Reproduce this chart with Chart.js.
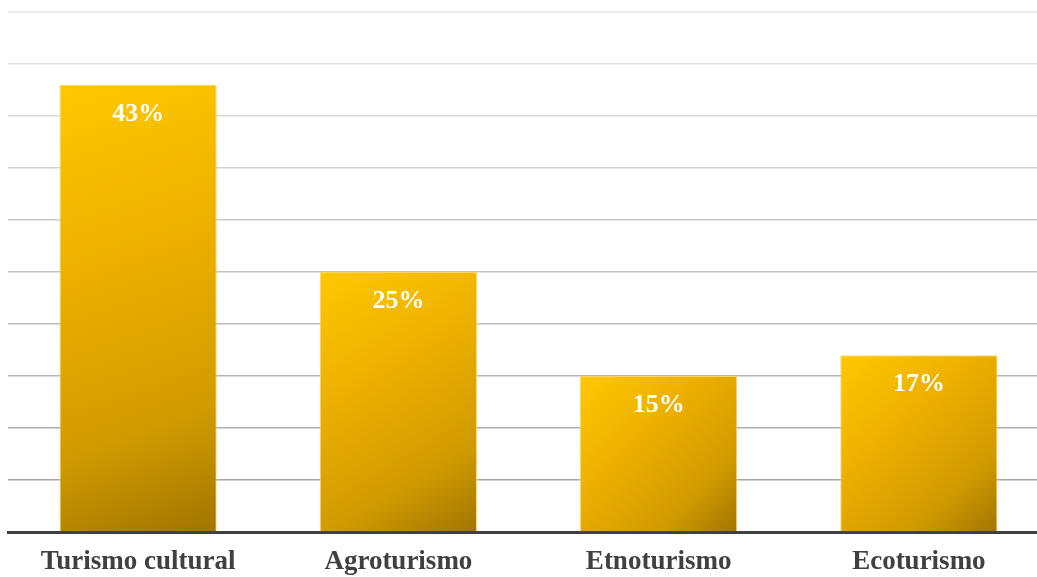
<!DOCTYPE html>
<html>
<head>
<meta charset="utf-8">
<script src="https://cdn.jsdelivr.net/npm/chart.js@4.4.1/dist/chart.umd.min.js"></script>
<style>
  html, body { margin: 0; padding: 0; background: #ffffff; overflow: hidden; }
  #wrap { position: absolute; left: 0; top: 0; width: 1049px; height: 577px; }
</style>
</head>
<body>
<div id="wrap"><canvas id="c"></canvas></div>
<script>
const categories = ["Turismo cultural", "Agroturismo", "Etnoturismo", "Ecoturismo"];
const values = [43, 25, 15, 17];
const valueLabels = ["43%", "25%", "15%", "17%"];
const yTicks = [0, 5, 10, 15, 20, 25, 30, 35, 40, 45, 50];

const FONT = "'Liberation Serif', 'Times New Roman', serif";

function barGradient(ctx) {
  const chart = ctx.chart;
  const xs = chart.scales && chart.scales.x, ys = chart.scales && chart.scales.y;
  if (!xs || !ys || ctx.dataIndex === undefined) return '#F0B400';
  const i = ctx.dataIndex;
  const cx = xs.getPixelForValue(i);
  const half = (xs.width / categories.length) * 0.604 / 2;
  const top = ys.getPixelForValue(values[i]);
  const bot = ys.getPixelForValue(0);
  if (![cx, half, top, bot].every(Number.isFinite) || bot - top < 1 || half < 1) return '#F0B400';
  const g = chart.ctx.createLinearGradient(cx - half, top, cx + half, bot);
  g.addColorStop(0, '#FFC800');
  g.addColorStop(0.4, '#ECAF00');
  g.addColorStop(0.75, '#D09B00');
  g.addColorStop(1, '#A07500');
  return g;
}

const valueLabelPlugin = {
  id: 'valueLabels',
  afterDatasetsDraw(chart) {
    const meta = chart.getDatasetMeta(0);
    const c = chart.ctx;
    c.save();
    c.font = "bold 26px " + FONT;
    c.fillStyle = '#ffffff';
    c.textAlign = 'center';
    c.textBaseline = 'middle';
    meta.data.forEach((bar, i) => {
      c.fillText(valueLabels[i], bar.x, bar.y + 29.5);
    });
    c.restore();
  }
};

const chart = new Chart(document.getElementById('c'), {
  type: 'bar',
  data: {
    labels: categories,
    datasets: [{
      data: values,
      backgroundColor: barGradient,
      borderColor: '#F7D468',
      borderWidth: 1,
      borderSkipped: 'bottom',
      categoryPercentage: 0.604,
      barPercentage: 1.0
    }]
  },
  options: {
    responsive: true,
    maintainAspectRatio: false,
    animation: false,
    events: [],
    layout: { padding: { left: 8, top: 12, right: 0, bottom: 0 } },
    plugins: { legend: { display: false }, tooltip: { enabled: false } },
    scales: {
      x: {
        grid: { display: false, drawTicks: false },
        border: { display: true, color: '#404040', width: 3 },
        ticks: {
          color: '#404040',
          font: { family: FONT, size: 27, weight: 'bold' },
          padding: 14,
          maxRotation: 0,
          autoSkip: false
        },
        afterFit(scale) { scale.height = 45; }
      },
      y: {
        min: 0, max: 50,
        afterBuildTicks(scale) { scale.ticks = yTicks.map(v => ({ value: v })); },
        ticks: { display: false },
        border: { display: false },
        grid: {
          drawTicks: false,
          lineWidth: 1.5,
          color(ctx) {
            const v = ctx.tick ? ctx.tick.value : 0;
            if (v === 0) return 'rgba(0,0,0,0)';
            const t = (v - 5) / 45;
            const c = Math.round(166 + t * (232 - 166));
            return `rgb(${c},${c},${c})`;
          }
        },
        afterFit(scale) { scale.width = 0; }
      }
    }
  },
  plugins: [valueLabelPlugin]
});
chart.update();
</script>
</body>
</html>
